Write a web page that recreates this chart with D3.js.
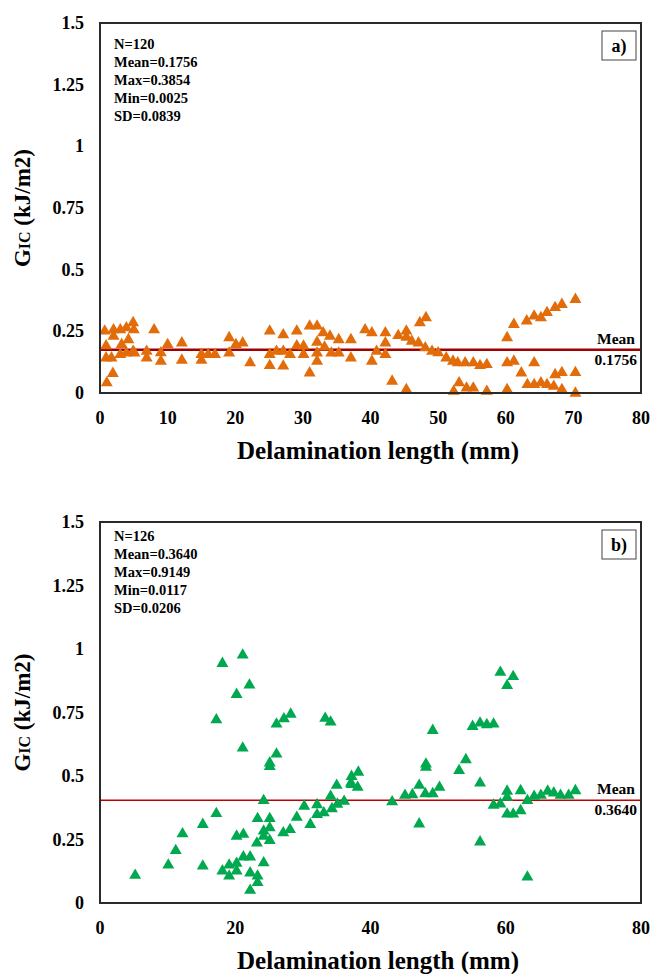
<!DOCTYPE html>
<html>
<head>
<meta charset="utf-8">
<script src="https://cdn.jsdelivr.net/npm/d3@7"></script>
<style>
  body { margin: 0; background: #fff; }
</style>
</head>
<body>
<div id="container"></div>
<script>
// Panel a) delamination length (mm) vs GIC (kJ/m2)
var xA = [1.0, 1.9, 0.7, 2.0, 0.9, 0.9, 1.7, 2.0, 3.0, 3.2, 3.0, 3.9, 4.2, 3.9, 4.9, 5.0, 4.9, 5.1,
  8.0, 6.9, 6.9, 9.0, 9.0, 10.0, 12.1, 12.1, 15.0, 15.0, 16.0, 17.0, 19.1, 19.1, 20.1, 21.1, 22.2,
  25.1, 25.1, 25.1, 26.1, 27.1, 27.1, 27.1, 28.1, 29.1, 29.1, 30.1, 30.1, 31.0, 31.0, 32.1, 32.1,
  32.1, 32.1, 33.0, 33.2, 34.0, 34.2, 35.3, 35.3, 37.1, 37.1, 39.2, 40.2, 40.2,
  42.2, 42.2, 42.2, 40.9, 43.2, 45.3, 44.1, 45.3, 45.3, 46.1, 47.1, 47.3, 48.2, 48.1, 49.1, 50.0,
  51.2, 52.2, 52.3, 52.9, 53.1, 54.0, 54.2, 55.2, 55.2, 56.2, 57.2, 57.2, 60.2, 60.2, 60.2, 61.2,
  61.2, 62.3, 63.1, 63.2, 64.2, 64.2, 64.2, 65.2, 65.2, 66.1, 66.1, 67.1, 67.3, 67.3, 68.3, 68.3,
  68.3, 70.3, 70.3, 70.3];
var yA = [0.045, 0.083, 0.255, 0.26, 0.195, 0.146, 0.146, 0.234, 0.26, 0.2, 0.16, 0.268, 0.22, 0.166,
  0.289, 0.26, 0.173, 0.166, 0.26, 0.173, 0.146, 0.167, 0.133, 0.2, 0.207, 0.137, 0.16, 0.137, 0.16,
  0.16, 0.228, 0.166, 0.2, 0.207, 0.126, 0.255, 0.16, 0.115, 0.173, 0.24, 0.173, 0.113, 0.16, 0.255,
  0.195, 0.194, 0.16, 0.275, 0.085, 0.275, 0.21, 0.166, 0.133, 0.248, 0.19, 0.234, 0.166, 0.22,
  0.166, 0.22, 0.146, 0.26, 0.248, 0.133,
  0.248, 0.207, 0.16, 0.173, 0.052, 0.018, 0.237, 0.255, 0.23, 0.214, 0.207, 0.289, 0.309, 0.187,
  0.173, 0.167, 0.146, 0.133, 0.011, 0.126, 0.045, 0.126, 0.024, 0.126, 0.024, 0.115, 0.119, 0.011,
  0.228, 0.126, 0.018, 0.282, 0.133, 0.085, 0.296, 0.038, 0.316, 0.126, 0.038, 0.309, 0.045, 0.33,
  0.038, 0.031, 0.35, 0.078, 0.363, 0.087, 0.018, 0.383, 0.087, 0.003];

// Panel b)
var xB = [18.1, 21.1, 22.1, 20.2, 17.2, 26.1, 27.2, 28.2, 33.3, 34.1, 21.1, 26.1, 25.1, 25.1, 38.2,
  37.2, 35.0, 37.2,
  5.2, 10.1, 11.2, 12.2, 15.2, 17.2, 15.2, 18.1, 19.1, 19.1, 20.2, 20.2, 20.2, 21.2, 21.2, 22.2,
  22.2, 22.2, 23.3, 23.3, 24.2, 23.3, 24.2, 25.1, 24.2, 25.1, 24.2, 23.2, 25.1, 27.1, 28.1, 29.1,
  30.2, 31.1, 32.1, 32.1, 33.1, 34.1, 34.3, 35.1, 36.1, 37.1, 38.1,
  59.2, 61.1, 60.2, 49.2, 55.1, 56.2, 57.2, 58.2, 48.2, 48.2, 54.1, 53.1, 56.2,
  43.2, 45.1, 46.2, 47.2, 48.1, 49.2, 50.2, 47.2, 56.2, 58.2, 59.2, 60.2, 60.2, 60.2, 61.1, 62.2,
  62.2, 63.2, 63.2, 64.2, 65.2, 66.2, 67.1, 68.1, 69.3, 70.3];
var yB = [0.947, 0.98, 0.862, 0.825, 0.725, 0.708, 0.729, 0.747, 0.731, 0.716, 0.614, 0.59, 0.555,
  0.541, 0.519, 0.502, 0.467, 0.47,
  0.113, 0.153, 0.21, 0.276, 0.313, 0.356, 0.149, 0.13, 0.11, 0.153, 0.13, 0.16, 0.267, 0.274,
  0.185, 0.185, 0.122, 0.054, 0.11, 0.084, 0.162, 0.336, 0.407, 0.336, 0.287, 0.3, 0.267, 0.24,
  0.25, 0.28, 0.293, 0.341, 0.385, 0.313, 0.391, 0.352, 0.359, 0.424, 0.375, 0.393, 0.404, 0.476,
  0.459,
  0.912, 0.895, 0.86, 0.683, 0.699, 0.712, 0.706, 0.708, 0.551, 0.538, 0.568, 0.525, 0.476,
  0.402, 0.428, 0.43, 0.467, 0.434, 0.434, 0.459, 0.315, 0.244, 0.389, 0.394, 0.444, 0.42, 0.354,
  0.354, 0.446, 0.367, 0.106, 0.407, 0.424, 0.428, 0.444, 0.437, 0.428, 0.428, 0.446];

var statsA = ['N=120', 'Mean=0.1756', 'Max=0.3854', 'Min=0.0025', 'SD=0.0839'];
var statsB = ['N=126', 'Mean=0.3640', 'Max=0.9149', 'Min=0.0117', 'SD=0.0206'];

var yTicks = [0, 0.25, 0.5, 0.75, 1, 1.25, 1.5];
var xTicksA = [0, 10, 20, 30, 40, 50, 60, 70, 80];
var xTicksB = [0, 20, 40, 60, 80];

// mean line positions as drawn, and their labels
var meanLineA = 0.1756, meanLabelA = '0.1756';
var meanLineB = 0.405, meanLabelB = '0.3640';

var width = 653, height = 974;
var svg = d3.select('#container').append('svg')
  .attr('width', width).attr('height', height)
  .style('font-family', "'Liberation Serif', 'Times New Roman', serif")
  .style('font-weight', 'bold');

function drawPanel(p) {
  var x = d3.scaleLinear().domain([0, 80]).range([100, 641]);
  var y = d3.scaleLinear().domain([0, 1.5]).range([p.bottom, p.top]);
  var g = svg.append('g');

  // y tick labels
  g.selectAll('.ytick').data(yTicks).enter().append('text')
    .attr('x', 84).attr('y', d => y(d) + 6)
    .attr('text-anchor', 'end').style('font-size', '18px')
    .text(d => d);

  // x tick labels
  g.selectAll('.xtick').data(p.xTicks).enter().append('text')
    .attr('x', d => x(d)).attr('y', p.bottom + 31)
    .attr('text-anchor', 'middle').style('font-size', '18px')
    .text(d => d);

  // mean line
  g.append('line')
    .attr('x1', x(0)).attr('x2', x(80))
    .attr('y1', y(p.meanLine)).attr('y2', y(p.meanLine))
    .attr('stroke', p.meanColour).attr('stroke-width', p.meanWidth);

  // triangles
  var tri = d3.symbol().type(d3.symbolTriangle).size(62);
  g.selectAll('.pt').data(p.xs).enter().append('path')
    .attr('d', tri)
    .attr('transform', (d, i) => 'translate(' + x(d) + ',' + (y(p.ys[i]) + 1) + ')')
    .attr('fill', p.colour);

  // frame
  g.append('rect')
    .attr('x', x(0)).attr('y', y(1.5))
    .attr('width', x(80) - x(0)).attr('height', y(0) - y(1.5))
    .attr('fill', 'none').attr('stroke', '#2a2a2a').attr('stroke-width', 2);

  // stats text
  g.selectAll('.stat').data(p.stats).enter().append('text')
    .attr('x', 114).attr('y', (d, i) => p.statsTop + i * 18)
    .style('font-size', '14.5px')
    .text(d => d);

  // panel label box
  g.append('rect').attr('x', 602).attr('y', y(1.5) + 8).attr('width', 34).attr('height', 29)
    .attr('fill', '#fff').attr('stroke', '#444').attr('stroke-width', 1);
  g.append('text').attr('x', 619).attr('y', y(1.5) + 29).attr('text-anchor', 'middle')
    .style('font-size', '18px').text(p.label);

  // mean labels
  g.append('text').attr('x', 635).attr('y', y(p.meanLine) - 6).attr('text-anchor', 'end')
    .style('font-size', '15.5px').text('Mean');
  g.append('text').attr('x', 637).attr('y', y(p.meanLine) + 15).attr('text-anchor', 'end')
    .style('font-size', '15.5px').text(p.meanLabel);

  // axis titles
  g.append('text').attr('x', 378).attr('y', p.bottom + 66).attr('text-anchor', 'middle')
    .style('font-size', '25px').text('Delamination length (mm)');

  var yl = g.append('text')
    .attr('transform', 'translate(30,' + ((p.top + p.bottom) / 2) + ') rotate(-90)')
    .attr('text-anchor', 'middle').style('font-size', '23px');
  yl.append('tspan').text('G');
  yl.append('tspan').style('font-size', '16px').text('IC');
  yl.append('tspan').text(' (kJ/m2)');
}

drawPanel({ top: 23, bottom: 393, xs: xA, ys: yA, xTicks: xTicksA, stats: statsA, statsTop: 49,
  label: 'a)', meanLine: meanLineA, meanLabel: meanLabelA,
  colour: '#e36c0a', meanColour: '#a00000', meanWidth: 2.5 });

drawPanel({ top: 522, bottom: 903, xs: xB, ys: yB, xTicks: xTicksB, stats: statsB, statsTop: 541,
  label: 'b)', meanLine: meanLineB, meanLabel: meanLabelB,
  colour: '#00a84f', meanColour: '#c00000', meanWidth: 1.5 });
</script>
</body>
</html>
